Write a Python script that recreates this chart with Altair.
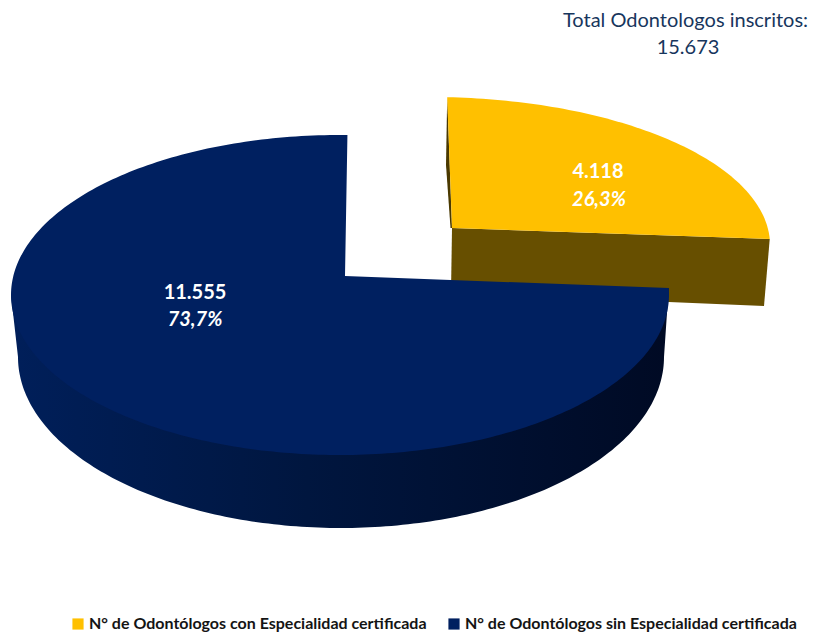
import math
import altair as alt
import pandas as pd

CATEGORIES = ["N° de Odontólogos con Especialidad certificada", "N° de Odontólogos sin Especialidad certificada"]
VALUES = [4118, 11555]
VALUE_LABELS = ["4.118", "11.555"]
SHARE_LABELS = ["26,3%", "73,7%"]
COLORS = ["#FFC000", "#002060"]
TOTAL_LINES = ["Total Odontologos inscritos:", "15.673"]

W, H = 800, 625
shares = [v / sum(VALUES) for v in VALUES]

def ell(c, t):
    r = math.radians(t)
    return c[0] + c[2] * math.sin(r), c[1] - c[3] * math.cos(r)

def arc(c, t0, t1, step=1.0):
    n = max(2, int(abs(t1 - t0) / step))
    return [ell(c, t0 + (t1 - t0) * i / n) for i in range(n + 1)]

def frame(pts, name=None):
    d = pd.DataFrame(pts, columns=["x", "y"])
    d["i"] = range(len(d))
    if name:
        d["serie"] = name
    return d

# ellipse projection: cx, cy, rx, ry
Y_TOP = (430, 245, 340, 148)
B_TOP = (340, 295, 329, 160)
B_IN = (340, 295, 327, 155)
B_LOW = (341, 357, 323, 171)
Y_APEX = (452, 228)
B_APEX = (345, 276)
y_start = 2.9
y_end = 87.7
b_start = 87.5
b_end = b_start + 273.7 * shares[1] / 0.737

X = alt.X("x:Q", scale=alt.Scale(domain=[8, 8 + W], nice=False, zero=False), axis=None)
Y = alt.Y("y:Q", scale=alt.Scale(domain=[8 + H, 8], nice=False, zero=False), axis=None)

def poly(pts, **kw):
    return alt.Chart(frame(pts)).mark_line(strokeWidth=0, strokeOpacity=0, **kw).encode(x=X, y=Y, order="i:Q")

color_scale = alt.Scale(domain=CATEGORIES, range=COLORS)
legend = alt.Legend(
    title=None, orient="none", legendX=62, legendY=608, direction="horizontal", columns=2,
    symbolType="square", symbolSize=125, symbolStrokeWidth=0, symbolOpacity=1, columnPadding=19,
    labelFont="Lato", labelFontWeight="bold", labelFontSize=16, labelColor="#141414", labelLimit=400,
    labelOffset=3,
)

def face(pts, idx):
    return alt.Chart(frame(pts, CATEGORIES[idx])).mark_line(strokeWidth=0, strokeOpacity=0).encode(
        x=X, y=Y, order="i:Q",
        fill=alt.Fill("serie:N", scale=color_scale, legend=legend),
    )

y_arc = arc(Y_TOP, y_start, y_end)
y_back = poly([y_arc[0], (446, 165), (450.5, 228), Y_APEX], fill="#4A3900")
y_cut = poly([Y_APEX, y_arc[-1], (764, 306), (451, 293)], fill="#674F00")
y_top = face([Y_APEX] + y_arc, 0)

side_grad = alt.LinearGradient(
    gradient="linear", x1=0, x2=1, y1=0, y2=0,
    stops=[alt.GradientStop(offset=0, color="#001F5A"),
           alt.GradientStop(offset=0.45, color="#00163F"),
           alt.GradientStop(offset=1, color="#000A24")],
)
b_side = poly([ell(B_TOP, 270)] + arc(B_IN, 270, b_start) + [ell(B_TOP, b_start)] + arc(B_LOW, 90, 270), fill=side_grad)
b_top = face([B_APEX] + arc(B_TOP, b_start, b_end), 1)

def text_layer(rows, **kw):
    d = pd.DataFrame(rows, columns=["x", "y", "t"])
    return alt.Chart(d).mark_text(**kw).encode(x=X, y=Y, text="t:N")

labels_plain = text_layer(
    [(598, 172, VALUE_LABELS[0]), (195, 293, VALUE_LABELS[1])],
    font="Lato", fontSize=20, fontWeight="bold", color="#FFFFFF", baseline="middle")
labels_ital = text_layer(
    [(599, 200, SHARE_LABELS[0]), (195, 320, SHARE_LABELS[1])],
    font="Lato", fontSize=20, fontWeight="bold", fontStyle="italic", color="#FFFFFF", baseline="middle")
total = text_layer(
    [(685.5, 21, TOTAL_LINES[0]), (688, 48, TOTAL_LINES[1])],
    font="Lato", fontSize=20, color="#17365D", baseline="middle")

chart = alt.layer(y_back, y_cut, y_top, b_side, b_top, labels_plain, labels_ital, total).properties(
    width=W, height=H, padding=0, autosize=alt.AutoSizeParams(type="none"),
).configure_view(stroke=None)

chart.save("out.html", embed_options={"renderer": "svg", "actions": False})
